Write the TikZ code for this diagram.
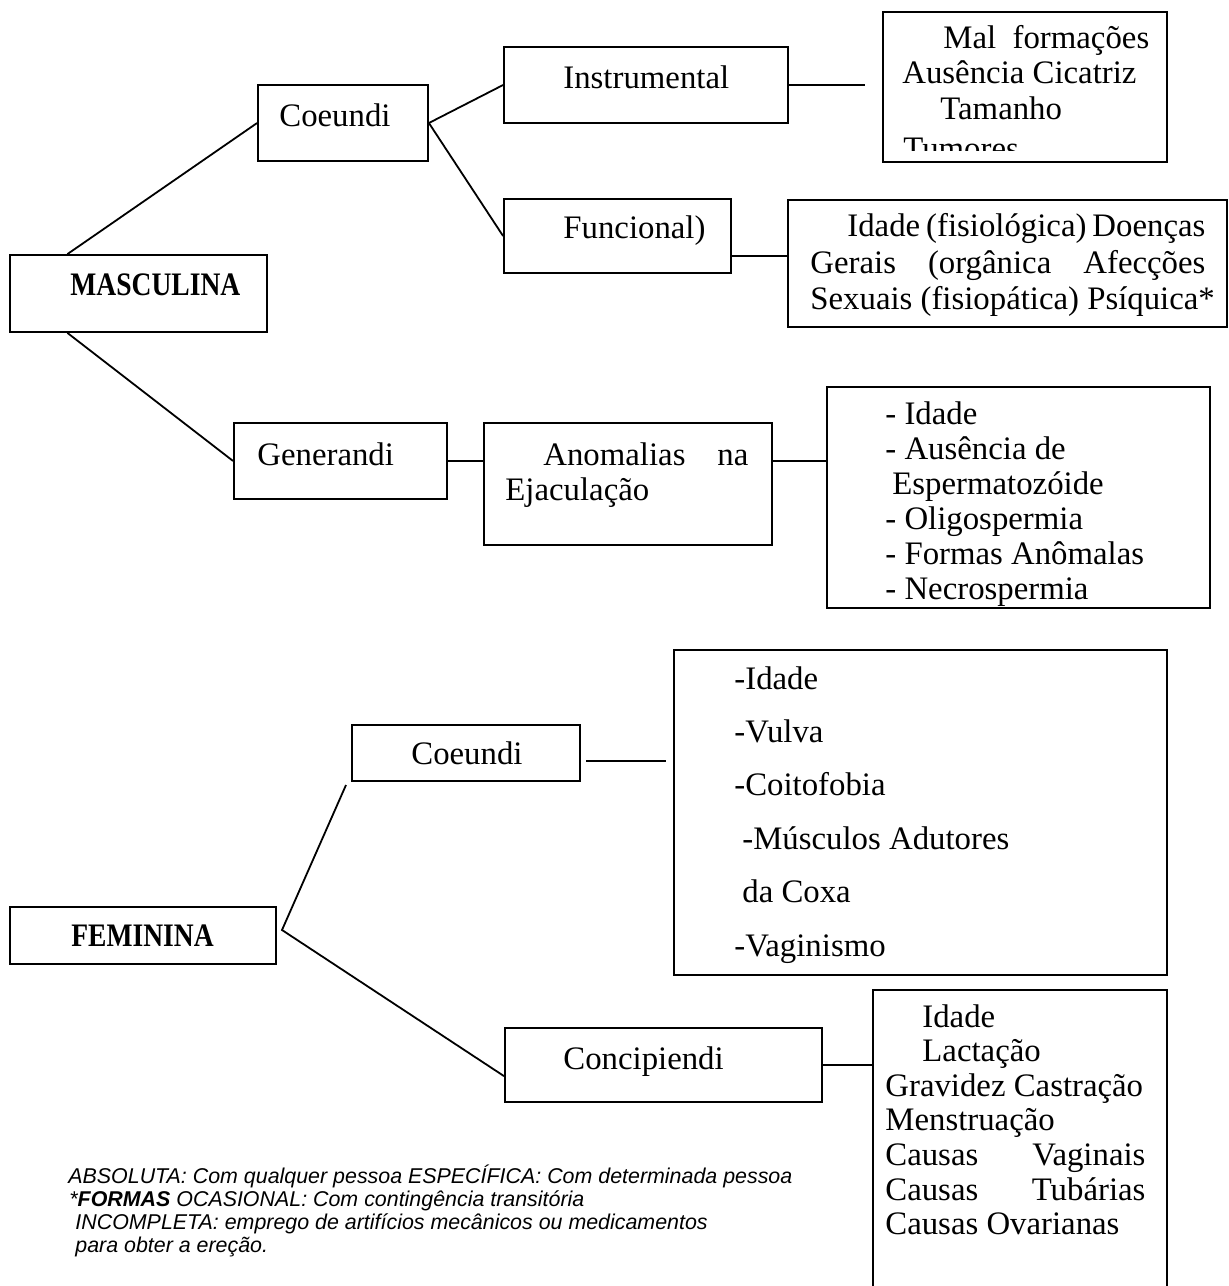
\documentclass[tikz,border=0pt]{standalone}
\usepackage{fontspec}
\setmainfont{Liberation Serif}
\setsansfont{Liberation Sans}
\usepackage{graphicx}
\usepackage{tikz}

\begin{document}
\begin{tikzpicture}[x=0.5pt,y=-0.5pt,
  caixa/.style={draw,line width=0.9pt,inner sep=0pt},
  liga/.style={line width=0.9pt},
  txt/.style={anchor=base west,inner sep=0pt,font=\fontsize{16.4}{17.5}\selectfont},
  nota/.style={anchor=base west,inner sep=0pt,font=\sffamily\itshape\fontsize{10.7}{11.5}\selectfont}]
\clip (0,0) rectangle (1229,1286);

\node[caixa,minimum width=128.5pt,minimum height=38.5pt] (masc) at (138.5,293.5) {};
\node[caixa,minimum width=85pt,minimum height=38pt] (mcoe) at (343,123) {};
\node[caixa,minimum width=142pt,minimum height=38pt] (instr) at (646,85) {};
\node[caixa,minimum width=113.5pt,minimum height=37pt] (func) at (617.5,236) {};
\node[caixa,minimum width=142pt,minimum height=75pt] (malf) at (1025,87) {};
\node[caixa,minimum width=219.5pt,minimum height=63.5pt] (funcl) at (1007.5,263.5) {};
\node[caixa,minimum width=106.5pt,minimum height=38pt] (gener) at (340.5,461) {};
\node[caixa,minimum width=144pt,minimum height=61pt] (anom) at (628,484) {};
\node[caixa,minimum width=191.5pt,minimum height=110.5pt] (anoml) at (1018.5,497.5) {};

\node[caixa,minimum width=133pt,minimum height=28.5pt] (fem) at (143,935.5) {};
\node[caixa,minimum width=114pt,minimum height=28pt] (fcoe) at (466,753) {};
\node[caixa,minimum width=246.5pt,minimum height=162.5pt] (fcoel) at (920.5,812.5) {};
\node[caixa,minimum width=158.5pt,minimum height=37pt] (conc) at (663.5,1065) {};
\node[caixa,minimum width=147pt,minimum height=165pt] (concl) at (1020,1155) {};

\coordinate (instrfim) at (865,85);
\coordinate (femv) at (282,930);
\coordinate (fcoetip) at (346,785);
\coordinate (fcoea) at (586,761);
\coordinate (fcoeb) at (666,761);

\draw[liga] (masc.151) -- (mcoe.west);
\draw[liga] (masc.209) -- (gener.west);
\draw[liga] (mcoe.east) -- (instr.west);
\draw[liga] (mcoe.east) -- (func.west);
\draw[liga] (instr.east) -- (instrfim);
\draw[liga] (func.350) -- (func.350 -| funcl.west);
\draw[liga] (gener.east) -- (gener.east -| anom.west);
\draw[liga] (gener.east -| anom.east) -- (gener.east -| anoml.west);
\draw[liga] (fcoetip) -- (femv) -- (conc.184);
\draw[liga] (fcoea) -- (fcoeb);
\draw[liga] (conc.east) -- (conc.east -| concl.west);

\node[txt] (mascT) at (70,295) {\scalebox{0.84}[1]{\bfseries MASCULINA}};
\node[txt] (mcoeT) at (279,126) {Coeundi};
\node[txt] (instrT) at (563,88) {Instrumental};
\node[txt] (funcT) at (563,238) {Funcional)};
\node[txt] (malf1) at (943,48) {Mal\ \ formações};
\node[txt] (malf2) at (902,83) {Ausência Cicatriz};
\node[txt] (malf3) at (940,119) {Tamanho};
\begin{scope}
\clip (883,12) rectangle (1167,150);
\node[txt] (malf4) at (903,159) {Tumores};
\end{scope}
\node[txt] (funcl1) at (847,236) {\makebox[179pt][s]{Idade (fisiológica) Doenças}};
\node[txt] (funcl2) at (810,273) {\makebox[197.5pt][s]{Gerais (orgânica Afecções}};
\node[txt] (funcl3) at (810,309) {Sexuais (fisiopática) Psíquica*};
\node[txt] (generT) at (257,465) {Generandi};
\node[txt] (anom1) at (543,465) {\makebox[102.5pt][s]{Anomalias na}};
\node[txt] (anom2) at (505,500) {Ejaculação};
\foreach \linha/\x [count=\i from 0] in {- Idade/885,- Ausência de/885,Espermatozóide/892,- Oligospermia/885,- Formas Anômalas/885,- Necrospermia/885}
  \node[txt] (al\i) at (\x,{424+35*\i}) {\linha};

\node[txt] (femT) at (71,946) {\scalebox{0.84}[1]{\bfseries FEMININA}};
\node[txt] (fcoeT) at (411,764) {Coeundi};
\foreach \linha/\x [count=\i from 0] in {-Idade/734,-Vulva/734,-Coitofobia/734,-Músculos Adutores/742,da Coxa/742,-Vaginismo/734}
  \node[txt] (fl\i) at (\x,{689+53.4*\i}) {\linha};
\node[txt] (concT) at (563,1069) {Concipiendi};
\foreach \linha/\x [count=\i from 0] in {Idade/922,Lactação/922,Gravidez Castração/885,Menstruação/885,{\makebox[130pt][s]{Causas Vaginais}}/885,{\makebox[130pt][s]{Causas Tubárias}}/885,Causas Ovarianas/885}
  \node[txt] (cl\i) at (\x,{1027+34.6*\i}) {\linha};

\node[nota] (nota1) at (68,1183) {ABSOLUTA: Com qualquer pessoa ESPECÍFICA: Com determinada pessoa};
\node[nota] (nota2) at (69,1206) {*\textbf{FORMAS} OCASIONAL: Com contingência transitória};
\node[nota] (nota3) at (75,1229) {INCOMPLETA: emprego de artifícios mecânicos ou medicamentos};
\node[nota] (nota4) at (75,1252) {para obter a ereção.};
\end{tikzpicture}
\end{document}
